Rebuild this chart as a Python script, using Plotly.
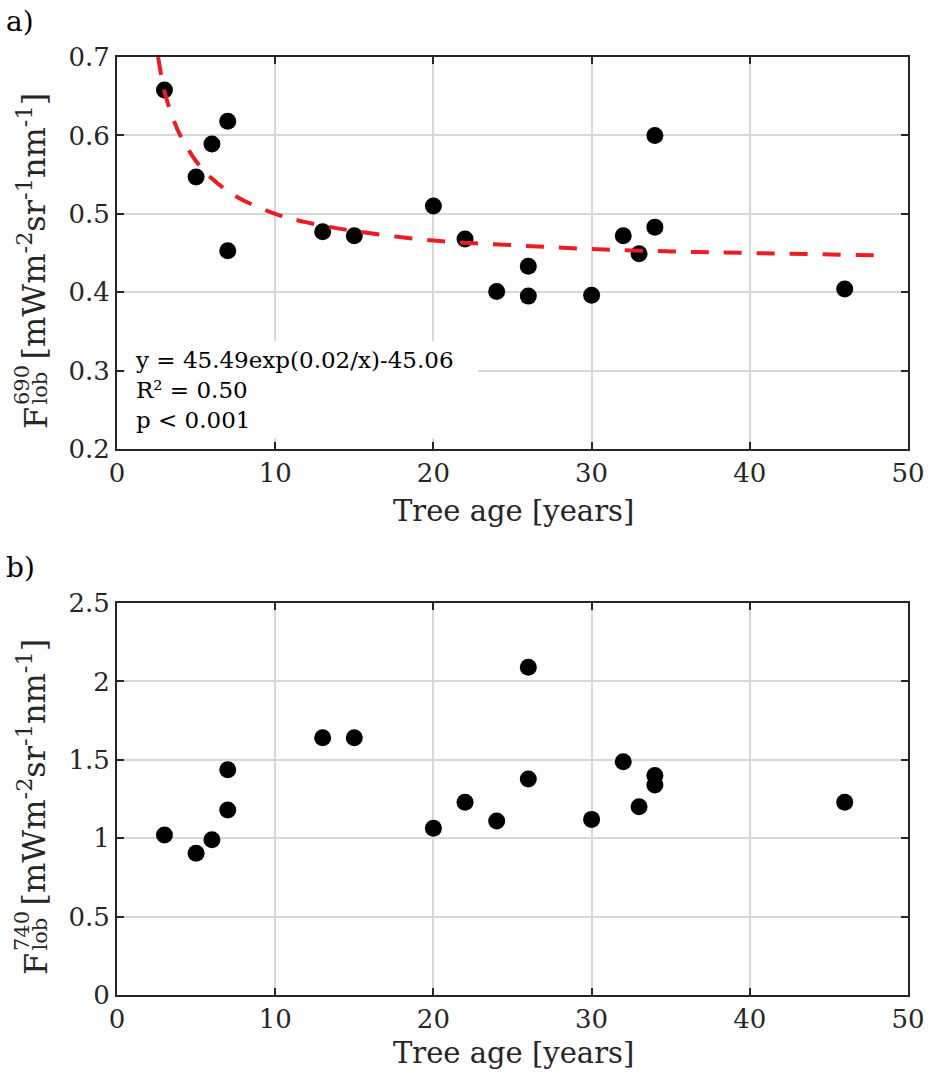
import plotly.graph_objects as go

# ---- data ----
age_a = [3, 5, 6, 7, 7, 13, 15, 20, 22, 24, 26, 26, 30, 32, 33, 34, 34, 46]
f690 = [0.658, 0.547, 0.589, 0.618, 0.453, 0.477, 0.472, 0.510, 0.468, 0.401,
        0.433, 0.395, 0.396, 0.472, 0.449, 0.600, 0.483, 0.404]

fit_age = [2.6, 3, 3.5, 4, 5, 6, 7, 8, 10, 12, 15, 20, 25, 30, 35, 40, 48]
fit_f690 = [0.700, 0.656, 0.624, 0.600, 0.567, 0.545, 0.529, 0.517, 0.500, 0.489,
            0.478, 0.466, 0.460, 0.455, 0.452, 0.450, 0.447]

age_b = [3, 5, 6, 7, 7, 13, 15, 20, 22, 24, 26, 26, 30, 32, 33, 34, 34, 46]
f740 = [1.02, 0.904, 0.99, 1.18, 1.436, 1.641, 1.64, 1.064, 1.23, 1.11,
        2.09, 1.378, 1.12, 1.487, 1.20, 1.40, 1.34, 1.23]

x_ticks = [0, 10, 20, 30, 40, 50]
ya_ticks = [0.2, 0.3, 0.4, 0.5, 0.6, 0.7]
yb_ticks = [0, 0.5, 1, 1.5, 2, 2.5]

fit_text = "y = 45.49exp(0.02/x)-45.06<br>R² = 0.50<br>p < 0.001"

FONT = "DejaVu Serif"
DARK = "#262626"
GRID = "#d8d8d8"
W, H = 930, 1073

fig = go.Figure()
fig.add_trace(go.Scatter(x=age_a, y=f690, mode="markers",
                         marker=dict(color="black", size=17),
                         xaxis="x", yaxis="y", showlegend=False))
fig.add_trace(go.Scatter(x=fit_age, y=fit_f690, mode="lines", line_shape="spline",
                         line=dict(color="rgb(237,28,36)", width=4, dash="18px,15px"),
                         xaxis="x", yaxis="y", showlegend=False))
fig.add_trace(go.Scatter(x=age_b, y=f740, mode="markers",
                         marker=dict(color="black", size=17),
                         xaxis="x2", yaxis="y2", showlegend=False))

axis_common = dict(showline=True, linecolor=DARK, linewidth=2, mirror="ticks",
                   ticks="inside", ticklen=7, tickwidth=2, tickcolor=DARK,
                   showgrid=True, gridcolor=GRID, gridwidth=2, zeroline=False,
                   automargin=False,
                   tickfont=dict(family=FONT, size=26, color=DARK))


def px2x(p):
    return p / W


def px2y(p):
    return 1 - p / H


fig.update_layout(
    width=W, height=H,
    margin=dict(l=0, r=0, t=0, b=0, autoexpand=False),
    paper_bgcolor="white", plot_bgcolor="white",
    xaxis=dict(domain=[px2x(117), px2x(908)], range=[0, 50], tickvals=x_ticks,
               anchor="y", **axis_common),
    yaxis=dict(domain=[px2y(449), px2y(57)], range=[0.2, 0.7], tickvals=ya_ticks,
               tickformat=".1f", anchor="x", **axis_common),
    xaxis2=dict(domain=[px2x(117), px2x(908)], range=[0, 50], tickvals=x_ticks,
                anchor="y2", **axis_common),
    yaxis2=dict(domain=[px2y(995), px2y(603)], range=[0, 2.5], tickvals=yb_ticks,
                anchor="x2", **axis_common),
)

# white box behind the fit text (covers the grid lines there)
fig.add_shape(type="rect", xref="paper", yref="paper",
              x0=px2x(125), x1=px2x(478), y0=px2y(438), y1=px2y(341),
              fillcolor="white", line_width=0, layer="above")

annots = []
annots.append(dict(text=fit_text, xref="paper", yref="paper",
                   x=px2x(133), y=px2y(390), xanchor="left", yanchor="middle",
                   align="left", showarrow=False,
                   font=dict(family=FONT, size=23, color="black")))

for lab, ypix in [("a)", 21), ("b)", 567)]:
    annots.append(dict(text=lab, xref="paper", yref="paper", x=px2x(4), y=px2y(ypix),
                       xanchor="left", yanchor="middle", showarrow=False,
                       font=dict(family=FONT, size=28, color="black")))

for ypix in [511, 1053]:
    annots.append(dict(text="Tree age [years]", xref="paper", yref="paper",
                       x=px2x(513), y=px2y(ypix), xanchor="center", yanchor="middle",
                       showarrow=False, font=dict(family=FONT, size=29, color=DARK)))

# y-axis titles built from pieces so the super/subscripts stack
for sup, off in [("690", 0), ("740", 546)]:
    annots.append(dict(text="F", xref="paper", yref="paper",
                       x=px2x(36), y=px2y(431 + off), xanchor="center", yanchor="bottom",
                       textangle=-90, showarrow=False,
                       font=dict(family=FONT, size=32, color=DARK)))
    annots.append(dict(text="lob", xref="paper", yref="paper",
                       x=px2x(39), y=px2y(407 + off), xanchor="center", yanchor="bottom",
                       textangle=-90, showarrow=False,
                       font=dict(family=FONT, size=21, color=DARK)))
    annots.append(dict(text=sup, xref="paper", yref="paper",
                       x=px2x(22), y=px2y(407 + off), xanchor="center", yanchor="bottom",
                       textangle=-90, showarrow=False,
                       font=dict(family=FONT, size=21, color=DARK)))
    annots.append(dict(text="[mWm<sup>-2</sup>sr<sup>-1</sup>nm<sup>-1</sup>]",
                       xref="paper", yref="paper",
                       x=px2x(31), y=px2y(362 + off), xanchor="center", yanchor="bottom",
                       textangle=-90, showarrow=False,
                       font=dict(family=FONT, size=32, color=DARK)))

fig.update_layout(annotations=annots)

fig.write_html("out.html", config={"displayModeBar": False})
